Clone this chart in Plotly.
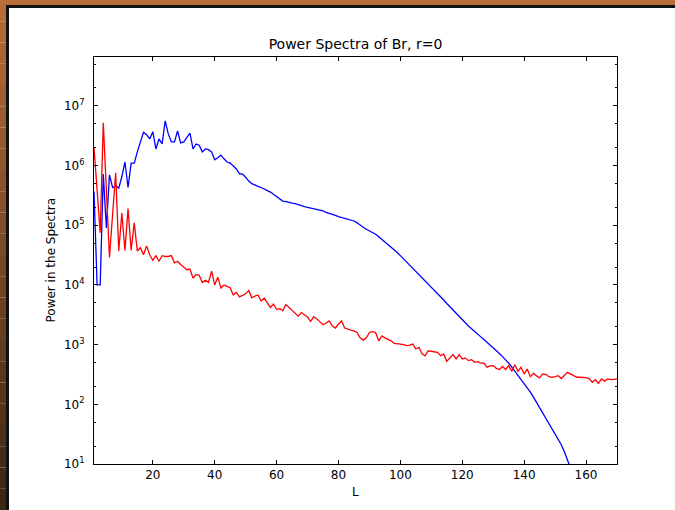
import plotly.graph_objects as go

L = list(range(1, 171))

blue = [3.7e5, 1.0e4, 1.0e4, 7.2e5, 9.0e4, 7.0e5, 4.3e5, 4.6e5, 4.2e5, 6.5e5,
        1.15e6, 4.3e5, 1.1e6, 1.1e6, 1.7e6, 2.6e6, 3.6e6, 3.3e6, 2.8e6, 3.7e6,
        1.9e6, 2.8e6, 2.3e6, 5.6e6, 3.4e6, 2.5e6, 2.5e6, 3.8e6, 2.4e6, 2.5e6,
        2.9e6, 3.5e6, 1.9e6, 2.3e6, 2.2e6, 1.7e6, 1.9e6, 1.85e6, 1.7e6, 1.25e6,
        1.35e6, 1.5e6, 1.3e6, 1.15e6, 1.1e6, 1.0e6, 8.8e5, 7.3e5, 7.2e5, 6.4e5,
        5.5e5, 5.0e5, 4.7e5, 4.5e5, 4.3e5, 4.0e5, 3.8e5, 3.6e5, 3.3e5, 3.1e5,
        2.75e5, 2.55e5, 2.5e5, 2.4e5, 2.35e5, 2.3e5, 2.2e5, 2.15e5, 2.05e5, 2.0e5,
        1.95e5, 1.9e5, 1.85e5, 1.8e5, 1.75e5, 1.65e5, 1.6e5, 1.55e5, 1.47e5, 1.4e5,
        1.36e5, 1.32e5, 1.28e5, 1.22e5, 1.18e5, 1.1e5, 1.0e5, 9.3e4, 8.6e4, 8.1e4,
        7.6e4, 7.1e4, 6.4e4, 5.8e4, 5.3e4, 4.8e4, 4.4e4, 3.9e4, 3.5e4, 3.1e4,
        2.75e4, 2.45e4, 2.15e4, 1.9e4, 1.7e4, 1.5e4, 1.33e4, 1.18e4, 1.05e4, 9.4e3,
        8.3e3, 7.3e3, 6.4e3, 5.6e3, 4.9e3, 4.3e3, 3.8e3, 3.35e3, 2.95e3, 2.6e3,
        2.3e3, 2.05e3, 1.85e3, 1.65e3, 1.48e3, 1.35e3, 1.22e3, 1.1e3, 1.0e3, 900,
        800, 710, 630, 560, 490, 420, 360, 305, 260, 225,
        190, 160, 132, 108, 88, 72, 59, 49, 40, 33,
        27, 21, 16, 12, 8.5, 6.0, 4.2, 2.9, 2.0, 1.4,
        0.95, 0.65, 0.44, 0.3, 0.2, 0.13, 0.09, 0.06, 0.04, 0.027]

red = [2.0e6, 4.0e5, 7.5e4, 5.2e6, 4.0e5, 2.9e4, 1.5e5, 7.6e5, 3.7e4, 1.6e5,
       3.8e4, 1.9e5, 3.8e4, 1.1e5, 3.7e4, 4.2e4, 3.2e4, 4.5e4, 3.2e4, 2.6e4,
       3.1e4, 2.5e4, 3.1e4, 3.0e4, 3.0e4, 3.1e4, 2.35e4, 2.5e4, 2.2e4, 2.0e4,
       1.8e4, 1.85e4, 1.3e4, 1.5e4, 1.45e4, 1.1e4, 1.2e4, 1.1e4, 1.7e4, 1.0e4,
       1.35e4, 8.9e3, 1.0e4, 9.5e3, 9.0e3, 6.8e3, 7.5e3, 6.3e3, 6.8e3, 7.1e3,
       8.1e3, 6.1e3, 6.5e3, 6.8e3, 5.4e3, 6.0e3, 5.0e3, 4.2e3, 4.8e3, 3.9e3,
       4.0e3, 3.7e3, 4.7e3, 4.2e3, 3.7e3, 3.3e3, 3.0e3, 3.45e3, 3.2e3, 2.9e3,
       2.45e3, 2.95e3, 2.7e3, 2.45e3, 2.15e3, 2.3e3, 2.5e3, 2.07e3, 1.9e3, 2.2e3,
       2.5e3, 1.9e3, 1.85e3, 1.75e3, 1.7e3, 1.6e3, 1.3e3, 1.19e3, 1.3e3, 1.6e3,
       1.65e3, 1.6e3, 1.16e3, 1.4e3, 1.3e3, 1.24e3, 1.16e3, 1.05e3, 1.02e3, 1.02e3,
       1.0e3, 960, 980, 1.02e3, 845, 900, 700, 650, 790, 773,
       760, 743, 652, 697, 525, 600, 680, 575, 680, 575,
       600, 540, 560, 505, 520, 492, 490, 420, 440, 445,
       400, 383, 430, 383, 445, 357, 462, 357, 417, 323,
       390, 291, 330, 300, 277, 323, 318, 290, 284, 291,
       302, 270, 302, 343, 323, 300, 284, 284, 284, 280,
       270, 234, 260, 225, 267, 245, 267, 260, 262, 267]

ytickvals = [1e1, 1e2, 1e3, 1e4, 1e5, 1e6, 1e7]
yticktext = ['10<sup>1</sup>', '10<sup>2</sup>', '10<sup>3</sup>', '10<sup>4</sup>',
             '10<sup>5</sup>', '10<sup>6</sup>', '10<sup>7</sup>']

# plot box in pixels (675x510 page)
X0, X1, Y0, Y1 = 94, 617, 57, 464


def px(x):
    return (x - X0) / (X1 - X0)


def py(y):
    return (Y1 - y) / (Y1 - Y0)


trace1 = go.Scatter(x=L, y=blue, mode='lines', line=dict(color='#0000ff', width=1.3), showlegend=False)
trace2 = go.Scatter(x=L, y=red, mode='lines', line=dict(color='#ff0000', width=1.3), showlegend=False)

# slide frame round the picture
shapes = []
n = 24
for i in range(n):
    t = i / (n - 1)
    c = 'rgb(%d,%d,%d)' % (182 - 122 * t, 108 - 70 * t, 56 - 36 * t)
    shapes.append(dict(type='rect', xref='paper', yref='paper', layer='above',
                       x0=px(0), x1=px(6), y0=py(510 * i / n), y1=py(510 * (i + 1) / n),
                       fillcolor=c, line=dict(width=0)))
shapes.append(dict(type='rect', xref='paper', yref='paper', layer='above',
                   x0=px(0), x1=px(675), y0=py(0), y1=py(5),
                   fillcolor='#b86f39', line=dict(width=0)))
shapes.append(dict(type='rect', xref='paper', yref='paper', layer='above',
                   x0=px(6), x1=px(675), y0=py(5), y1=py(8),
                   fillcolor='#111111', line=dict(width=0)))
shapes.append(dict(type='rect', xref='paper', yref='paper', layer='above',
                   x0=px(6), x1=px(9), y0=py(5), y1=py(510),
                   fillcolor='#111111', line=dict(width=0)))

axis_common = dict(showline=True, linewidth=1, linecolor='black', mirror='ticks',
                   ticks='inside', ticklen=4, tickcolor='black', showgrid=False, zeroline=False,
                   tickfont=dict(family='DejaVu Sans', size=12, color='black'))

lay = go.Layout(
    width=675, height=510,
    margin=dict(l=X0, r=675 - X1, t=Y0, b=510 - Y1),
    paper_bgcolor='white', plot_bgcolor='white',
    font=dict(family='DejaVu Sans', color='black'),
    title=dict(text='Power Spectra of Br, r=0', font=dict(size=14, color='black'),
               x=0.5, xref='paper', y=1 - 44 / 510, yref='container', yanchor='middle'),
    xaxis=dict(range=[1, 170], tickvals=[20, 40, 60, 80, 100, 120, 140, 160],
               ticklabelstandoff=0, **axis_common),
    yaxis=dict(type='log', range=[1, 7.82], tickvals=ytickvals, ticktext=yticktext,
               minor=dict(ticks='inside', ticklen=2, tickcolor='black', showgrid=False),
               ticklabelstandoff=6, **axis_common),
    shapes=shapes,
    annotations=[
        dict(text='L', xref='paper', yref='paper', x=0.5, y=py(492), showarrow=False,
             xanchor='center', yanchor='middle', font=dict(size=12, color='black')),
        dict(text='Power in the Spectra', xref='paper', yref='paper', x=px(50), y=0.5,
             showarrow=False, textangle=-90, xanchor='center', yanchor='middle',
             font=dict(size=12, color='black')),
    ],
)

fig = go.Figure(data=[trace1, trace2], layout=lay)
# page body has an 8px margin by default; drop it so the frame sits at the edge
fig.write_html("out.html", config={'displayModeBar': False},
               post_script="document.body.style.margin='0';")
